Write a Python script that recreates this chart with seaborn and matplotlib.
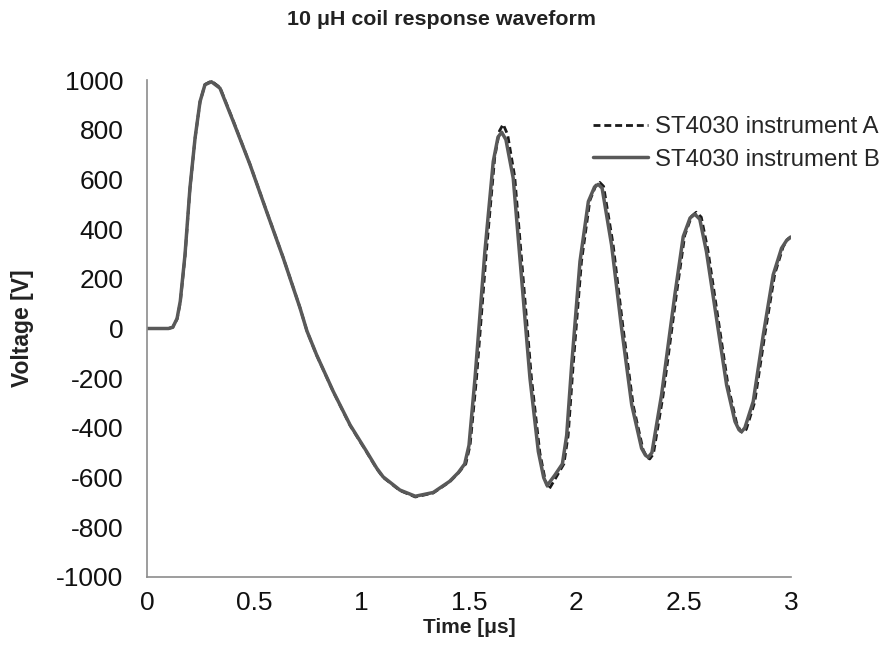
import matplotlib
matplotlib.use("Agg")
import matplotlib.pyplot as plt
import seaborn as sns

# readings (time in us, voltage in V)
time_b = [0.00, 0.05, 0.10, 0.12, 0.14, 0.155, 0.177, 0.20, 0.224, 0.247, 0.27, 0.30,
          0.34, 0.402, 0.48, 0.557, 0.635, 0.713, 0.745, 0.79, 0.868, 0.946,
          1.023, 1.07, 1.10, 1.178, 1.25, 1.333, 1.41, 1.45, 1.48, 1.50, 1.528, 1.574,
          1.613, 1.635, 1.652, 1.672, 1.706, 1.745, 1.784, 1.823, 1.848, 1.864, 1.90,
          1.935, 1.955, 1.978, 2.017, 2.056, 2.085, 2.102, 2.12, 2.164, 2.211, 2.258,
          2.304, 2.322, 2.335, 2.352, 2.397, 2.459, 2.498, 2.53, 2.552, 2.575, 2.606,
          2.653, 2.70, 2.739, 2.758, 2.77, 2.785, 2.824, 2.871, 2.917, 2.956, 2.98, 3.00]
volt_b = [0, 0, 0, 5, 40, 110, 297, 565, 767, 913, 981, 993,
          967, 833, 659, 471, 283, 82, -10, -106, -254, -388,
          -495, -562, -597, -650, -675, -660, -615, -580, -545, -470, -200, 310,
          672, 770, 790, 760, 605, 202, -200, -495, -600, -632, -590,
          -545, -430, -150, 270, 511, 570, 580, 565, 337, 0, -307,
          -482, -510, -518, -500, -267, 136, 370, 445, 460, 440, 310,
          41, -227, -374, -408, -415, -400, -294, -25, 216, 323, 355, 368]

time_a = [0.00, 0.05, 0.10, 0.12, 0.14, 0.155, 0.177, 0.20, 0.224, 0.247, 0.27, 0.30,
          0.34, 0.402, 0.48, 0.557, 0.635, 0.713, 0.745, 0.79, 0.868, 0.946,
          1.023, 1.07, 1.10, 1.178, 1.25, 1.333, 1.41, 1.45, 1.485, 1.505, 1.535, 1.581,
          1.62, 1.642, 1.659, 1.68, 1.713, 1.752, 1.791, 1.83, 1.855, 1.872, 1.905,
          1.942, 1.962, 1.985, 2.024, 2.063, 2.092, 2.109, 2.127, 2.171, 2.218, 2.265,
          2.311, 2.329, 2.342, 2.359, 2.404, 2.466, 2.505, 2.537, 2.559, 2.582, 2.613,
          2.66, 2.707, 2.746, 2.765, 2.777, 2.792, 2.831, 2.878, 2.924, 2.963, 2.985, 3.00]
volt_a = [0, 0, 0, 5, 38, 105, 290, 560, 765, 912, 982, 996,
          970, 835, 660, 472, 284, 83, -10, -107, -255, -390,
          -497, -564, -599, -652, -678, -662, -617, -582, -545, -470, -200, 310,
          690, 795, 822, 780, 610, 205, -200, -500, -610, -648, -600,
          -545, -430, -150, 270, 515, 578, 588, 572, 340, 0, -310,
          -488, -518, -525, -505, -270, 136, 375, 452, 468, 448, 315,
          42, -230, -378, -414, -420, -405, -296, -25, 218, 328, 360, 370]

x_ticks = [0, 0.5, 1, 1.5, 2, 2.5, 3]
x_labels = ["0", "0.5", "1", "1.5", "2", "2.5", "3"]
y_ticks = [-1000, -800, -600, -400, -200, 0, 200, 400, 600, 800, 1000]

sns.set_style("white")
plt.rcParams["font.family"] = ["Liberation Sans", "DejaVu Sans"]

fig = plt.figure(figsize=(8.83, 6.63), dpi=100)
ax = fig.add_axes([147 / 883, 1 - 577 / 663, (791 - 147) / 883, (577 - 80) / 663])

sns.lineplot(x=time_a, y=volt_a, ax=ax, color="#1a1a1a", linewidth=2.0,
             linestyle=(0, (2.5, 1.4)), label="ST4030 instrument A")
sns.lineplot(x=time_b, y=volt_b, ax=ax, color="#595959", linewidth=2.5,
             label="ST4030 instrument B")

ax.set_xlim(0, 3)
ax.set_ylim(-1000, 1000)
ax.set_xticks(x_ticks)
ax.set_xticklabels(x_labels)
ax.set_yticks(y_ticks)
ax.set_yticklabels([str(v) for v in y_ticks])

for side in ["top", "right"]:
    ax.spines[side].set_visible(False)
for side in ["left", "bottom"]:
    ax.spines[side].set_color("#8c8c8c")
    ax.spines[side].set_linewidth(1.2)
ax.tick_params(axis="both", which="major", direction="out", length=5, width=1.2,
               color="#8c8c8c", labelsize=19, labelcolor="#111111")
ax.tick_params(axis="y", pad=12)
ax.tick_params(axis="x", pad=5)

ax.set_xlabel("Time [μs]", fontsize=15, fontweight="bold", color="#222222", labelpad=2)
ax.set_ylabel("Voltage [V]", fontsize=16.5, fontweight="bold", color="#222222", labelpad=16)
fig.suptitle("10 μH coil response waveform", x=0.5, y=1 - 10 / 663, va="top",
             fontsize=15.4, fontweight="bold", color="#222222")

ax.legend(loc="upper left", bbox_to_anchor=(593 / 883, 1 - 116 / 663),
          bbox_transform=fig.transFigure, frameon=False, fontsize=17.3,
          handlelength=2.3, handletextpad=0.3, labelspacing=0.45,
          borderpad=0, borderaxespad=0)

fig.savefig("out.png", dpi=100)
